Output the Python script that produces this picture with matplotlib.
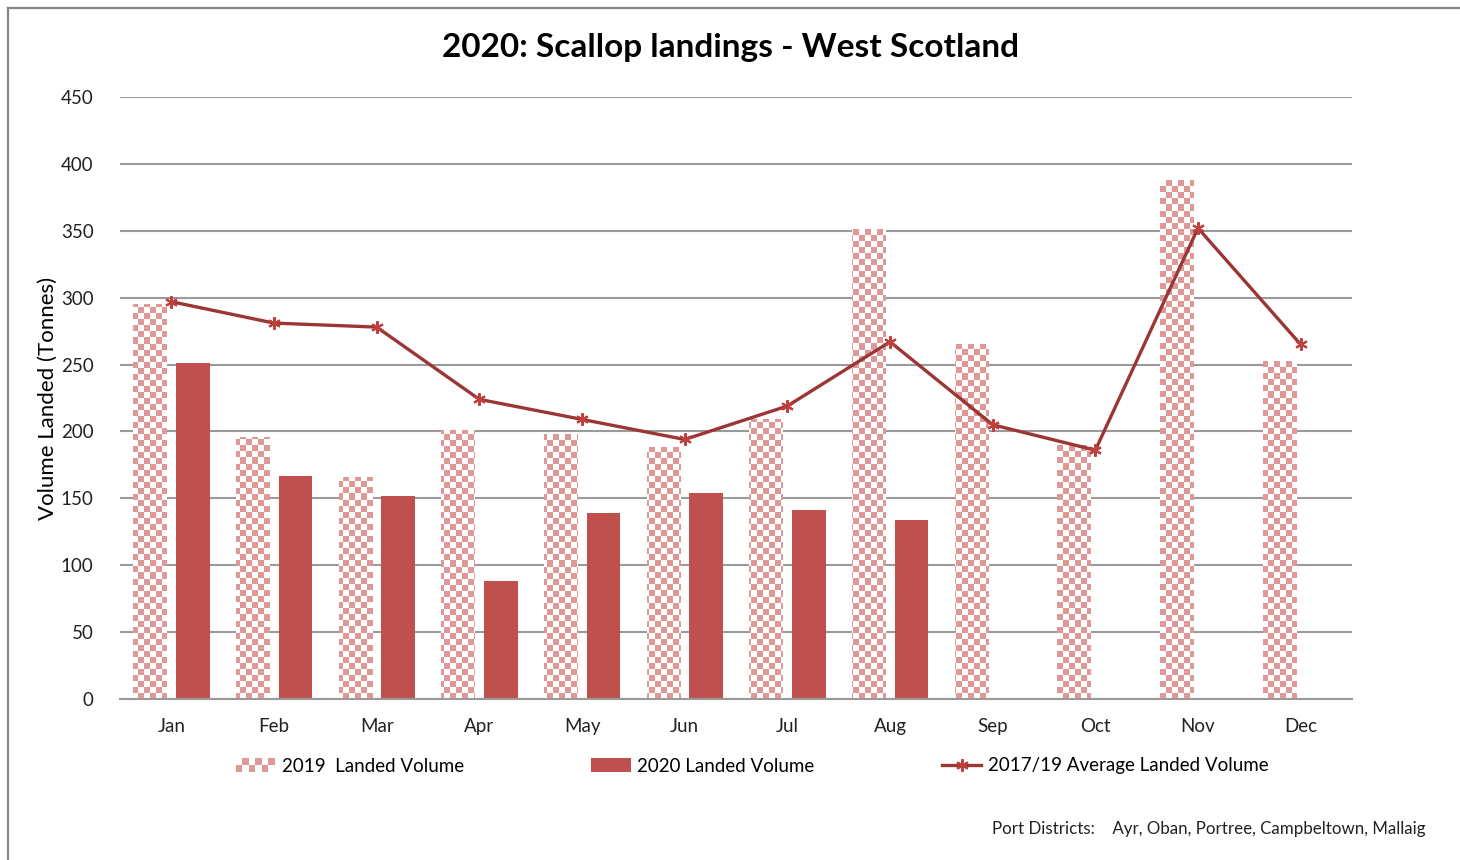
import matplotlib.pyplot as plt
import numpy as np
from matplotlib.image import AxesImage
from matplotlib.colors import ListedColormap
from matplotlib.legend_handler import HandlerBase
from matplotlib.patches import Rectangle, Patch
from matplotlib.lines import Line2D

plt.rcParams['font.family'] = ['Lato', 'DejaVu Sans']

months = ["Jan", "Feb", "Mar", "Apr", "May", "Jun",
          "Jul", "Aug", "Sep", "Oct", "Nov", "Dec"]
vol_2019 = [295, 196, 166, 201, 198, 188, 209, 351, 265, 190, 388, 253]
vol_2020 = [251, 167, 152, 88, 139, 154, 141, 134]
avg_1719 = [297, 281, 278, 224, 209, 194, 219, 267, 205, 186, 352, 265]

pink = "#DE9896"
red = "#C0504D"
line_red = "#9C3634"
grid_gray = "#9A9A9A"

fig = plt.figure(figsize=(14.6, 8.6), dpi=100)
# outer chart border
fig.add_artist(Line2D([8/1460, 8/1460], [0, 1 - 8/860], transform=fig.transFigure,
                      color="#878787", lw=1.6))
fig.add_artist(Line2D([8/1460, 1], [1 - 8/860, 1 - 8/860], transform=fig.transFigure,
                      color="#878787", lw=1.6))

ax = fig.add_axes([120/1460, 1 - 699/860, 1232/1460, 602/860])

x = np.arange(len(months))
w = 0.33
bars19 = ax.bar(x - 0.205, vol_2019, width=w, facecolor="none", edgecolor="none", zorder=2)
ax.bar(x[:len(vol_2020)] + 0.21, vol_2020, width=w, color=red, zorder=2)

# checkerboard fill for 2019 bars
ncx, ncy = int(1232 / 6), int(602 / 6)
checker = (np.add.outer(np.arange(ncy), np.arange(ncx)) % 2).astype(float)
cmap = ListedColormap(["white", pink])
for b in bars19:
    im = AxesImage(ax, cmap=cmap, interpolation='nearest', extent=(0, 1, 0, 1),
                   transform=ax.transAxes, origin='lower')
    im.set_data(checker)
    im.set_clim(0, 1)
    im.set_zorder(2)
    im.set_clip_path(b)
    ax.add_image(im)

ax.plot(x, avg_1719, color=line_red, lw=2.4, marker=(6, 2, 0), markersize=9,
        markeredgecolor="#C0403D", markeredgewidth=1.5, zorder=3)

ax.set_xlim(-0.5, 11.5)
ax.set_ylim(0, 450)
ax.set_yticks(range(0, 451, 50))
ax.set_xticks(x)
ax.set_xticklabels(months)
ax.yaxis.grid(True, color=grid_gray, lw=1.5)
ax.set_axisbelow(True)
for s in ["top", "right", "left"]:
    ax.spines[s].set_visible(False)
ax.spines["bottom"].set_color(grid_gray)
ax.spines["bottom"].set_linewidth(1.5)
ax.tick_params(length=0, labelsize=13.5, colors="#222222")
ax.tick_params(axis='y', pad=19)
ax.tick_params(axis='x', pad=14)
ax.set_ylabel("Volume Landed (Tonnes)", fontsize=16, labelpad=2)

fig.suptitle("2020: Scallop landings - West Scotland", fontsize=24, fontweight="bold",
             y=1 - 47/860, va="center")


class CheckerHandler(HandlerBase):
    def create_artists(self, legend, orig_handle, xdescent, ydescent, width, height,
                       fontsize, trans):
        arts = []
        nx, ny = 6, 2
        cw, ch = width / nx, height / ny
        for i in range(nx):
            for j in range(ny):
                c = pink if (i + j) % 2 == 0 else "white"
                arts.append(Rectangle((-xdescent + i * cw, -ydescent + j * ch), cw, ch,
                                      facecolor=c, edgecolor="none", transform=trans))
        return arts


h19 = Patch(label="2019  Landed Volume")
h20 = Patch(facecolor=red, label="2020 Landed Volume")
hav = Line2D([], [], color=line_red, lw=2.4, marker=(6, 2, 0), markersize=9,
             markeredgecolor="#C0403D", markeredgewidth=1.5,
             label="2017/19 Average Landed Volume")
fig.legend(handles=[h19, h20, hav], handler_map={h19: CheckerHandler()},
           loc="center", bbox_to_anchor=(752/1460, 1 - 766/860), ncol=3, frameon=False,
           fontsize=13.5, columnspacing=6.8, handlelength=2.1, handletextpad=0.35,
           handleheight=0.7)

fig.text(1425/1460, 1 - 829/860,
         "Port Districts:    Ayr, Oban, Portree, Campbeltown, Mallaig",
         ha="right", va="center", fontsize=12.2, color="#222222")

fig.savefig("out.png", dpi=100)
